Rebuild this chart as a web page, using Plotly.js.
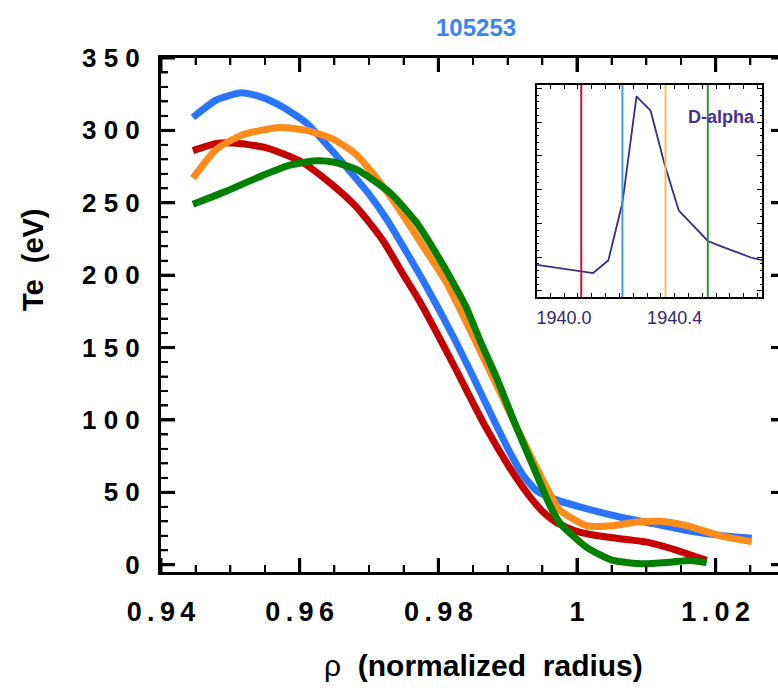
<!DOCTYPE html>
<html>
<head>
<meta charset="utf-8">
<script src="https://cdn.plot.ly/plotly-3.0.1.min.js"></script>
<style>
html, body { margin: 0; padding: 0; overflow: hidden; background: #fff; }
#wrap { position: relative; width: 790px; height: 690px; }
#chart { position: absolute; left: 0; top: 0; width: 790px; height: 690px; }
#inset { position: absolute; left: 500px; top: 60px; width: 280px; height: 280px; }
</style>
</head>
<body>
<div id="wrap"><div id="chart"></div><div id="inset"></div></div>
<script>
// ---- Main profiles: Te (eV) vs rho ----
const blueRho = [0.9446, 0.9480, 0.9516, 0.9545, 0.9576, 0.9610, 0.9643, 0.9672, 0.9700, 0.9725, 0.9754, 0.9783, 0.9821, 0.9850, 0.9884, 0.9905, 0.9922, 0.9942, 0.9966, 1.0004, 1.0062, 1.0110, 1.0158, 1.0207, 1.0252];
const blueTe  = [309, 321, 326, 323, 316, 305, 288, 272, 256, 239, 216, 192, 158, 130, 96, 76, 62, 51, 45.5, 40, 33, 28.4, 23.7, 20.3, 18.4];

const orangeRho = [0.9446, 0.9480, 0.9518, 0.9571, 0.9610, 0.9648, 0.9680, 0.9706, 0.9740, 0.9778, 0.9812, 0.9855, 0.9913, 0.9951, 0.9975, 1.0014, 1.0052, 1.0086, 1.0120, 1.0158, 1.0207, 1.0252];
const orangeTe  = [267, 287, 297, 302, 300, 294, 284, 270, 248, 220, 194.5, 153, 95, 58, 38, 27, 27, 29.5, 30, 27, 20, 16];

const redRho = [0.9446, 0.9480, 0.9513, 0.9552, 0.9600, 0.9643, 0.9682, 0.9720, 0.9750, 0.9773, 0.9821, 0.9865, 0.9903, 0.9932, 0.9950, 0.9971, 1.0000, 1.0030, 1.0062, 1.0101, 1.0144, 1.0173, 1.0187];
const redTe  = [286, 291, 291, 288, 279, 264, 247, 224, 200, 182, 139, 98, 67, 47, 37, 29, 23, 20, 18, 15.6, 10, 5.3, 3];

const greenRho = [0.9446, 0.9494, 0.9542, 0.9586, 0.9624, 0.9650, 0.9682, 0.9730, 0.9769, 0.9797, 0.9821, 0.9840, 0.9860, 0.9885, 0.9910, 0.9942, 0.9960, 0.9975, 1.0014, 1.0052, 1.0096, 1.0134, 1.0163, 1.0187];
const greenTe  = [249, 258, 268, 276, 279, 278, 273, 257, 236, 215, 195, 178, 155, 128, 98, 62, 42, 29, 12, 3, 0.7, 1.8, 3, 1.5];

// ---- Inset: D-alpha signal vs time ----
const daTime   = [1939.902, 1939.953, 1940.004, 1940.055, 1940.105, 1940.160, 1940.211, 1940.262, 1940.313, 1940.364, 1940.415, 1940.469, 1940.520, 1940.571, 1940.625, 1940.676, 1940.716];
const daSignal = [0.77, 0.71, 0.65, 0.59, 0.53, 0.90, 2.61, 5.76, 5.34, 3.74, 2.38, 1.92, 1.48, 1.31, 1.15, 0.99, 0.91];
const sliceTimes  = [1940.062, 1940.211, 1940.367, 1940.520];
const sliceColors = ['#d0103a', '#3aa0e0', '#f0c050', '#3d8f3d'];

// ---- Tick labels ----
const xTickVals = ['0.94', '0.96', '0.98', '1', '1.02'];
const xTickText = ['0\u2009.\u20099\u20094', '0\u2009.\u20099\u20096', '0\u2009.\u20099\u20098', '1', '1\u2009.\u20090\u20092'];
const yTickVals = ['0', '50', '100', '150', '200', '250', '300', '350'];
const yTickText = ['0', '5 0', '1 0 0', '1 5 0', '2 0 0', '2 5 0', '3 0 0', '3 5 0'];
const insetTickVals = [1940.0, 1940.4];
const insetTickText = ['1940.0', '1940.4'];

const xAlias = {}; xTickVals.forEach((v, i) => xAlias[v] = xTickText[i]);
const yAlias = {}; yTickVals.forEach((v, i) => yAlias[v] = yTickText[i]);

const FONT = 'Liberation Sans, Arial, sans-serif';
const W = 790, H = 690, M = { l: 161, r: 5, t: 58, b: 118 };
const X_RANGE = [0.94, 1.03];
const Y_RANGE = [-5, 350];
const T_RANGE = [1939.902, 1940.716];
const S_RANGE = [-0.18, 6.1];
const lineStyle = (c) => ({ color: c, width: 7, shape: 'spline', smoothing: 0.6 });

const traces = [
  { x: redRho, y: redTe, mode: 'lines', line: lineStyle('#c40000') },
  { x: blueRho, y: blueTe, mode: 'lines', line: lineStyle('#2a75ff') },
  { x: orangeRho, y: orangeTe, mode: 'lines', line: lineStyle('#ff8c1a') },
  { x: greenRho, y: greenTe, mode: 'lines', line: lineStyle('#008000') }
];

// ---- frame tick marks as line traces (pixel lengths converted through the axis scale) ----
function ticksAlong(start, stop, step) {
  const out = []; const n = Math.round((stop - start) / step);
  for (let i = 0; i <= n; i++) out.push(+(start + i * step).toFixed(6));
  return out;
}
const isMultiple = (v, m) => Math.abs(v / m - Math.round(v / m)) < 1e-6;
const xPerPx = (X_RANGE[1] - X_RANGE[0]) / (W - M.l - M.r);
const yPerPx = (Y_RANGE[1] - Y_RANGE[0]) / (H - M.t - M.b);
function tickTrace(xVals, yVals, lenPx, width) {
  const x = [], y = [];
  xVals.forEach(v => {
    x.push(v, v, null, v, v, null);
    y.push(Y_RANGE[0], Y_RANGE[0] + lenPx * yPerPx, null, Y_RANGE[1], Y_RANGE[1] - lenPx * yPerPx, null);
  });
  yVals.forEach(v => {
    x.push(X_RANGE[0], X_RANGE[0] + lenPx * xPerPx, null, X_RANGE[1], X_RANGE[1] - lenPx * xPerPx, null);
    y.push(v, v, null, v, v, null);
  });
  return { x, y, mode: 'lines', line: { color: '#000', width }, connectgaps: false, hoverinfo: 'skip', cliponaxis: false };
}
const xAll = ticksAlong(0.94, 1.03, 0.005), yAll = ticksAlong(0, 350, 10);
traces.push(tickTrace(xAll.filter(v => !isMultiple(v - 0.94, 0.02)), yAll.filter(v => !isMultiple(v, 50)), 7, 2));
traces.push(tickTrace(xAll.filter(v => isMultiple(v - 0.94, 0.02)), yAll.filter(v => isMultiple(v, 50)), 14, 3));

const layout = {
  width: W, height: H, margin: M,
  paper_bgcolor: '#fff', plot_bgcolor: '#fff',
  showlegend: false,
  font: { family: FONT, color: '#000' },
  xaxis: {
    range: X_RANGE, tickmode: 'linear', tick0: 0.94, dtick: 0.02,
    labelalias: xAlias,
    ticks: 'inside', ticklen: 14, tickwidth: 3, tickcolor: '#000',
    minor: { dtick: 0.005, ticks: 'inside', ticklen: 7, tickwidth: 2, tickcolor: '#000' },
    showline: true, linewidth: 3, linecolor: '#000', mirror: 'ticks',
    showgrid: false, zeroline: false,
    tickfont: { family: FONT, size: 27, weight: 'bold', color: '#000' },
    ticklabelstandoff: 14
  },
  yaxis: {
    range: Y_RANGE, tickmode: 'linear', tick0: 0, dtick: 50,
    labelalias: yAlias,
    ticks: 'inside', ticklen: 14, tickwidth: 3, tickcolor: '#000',
    minor: { dtick: 10, ticks: 'inside', ticklen: 7, tickwidth: 2, tickcolor: '#000' },
    showline: true, linewidth: 3, linecolor: '#000', mirror: 'ticks',
    showgrid: false, zeroline: false,
    tickfont: { family: FONT, size: 26, weight: 'bold', color: '#000' },
    ticklabelstandoff: 13
  },
  annotations: [
    { text: '105253', xref: 'paper', yref: 'paper', x: 0.505, y: 1.0603, xanchor: 'center', yanchor: 'middle',
      showarrow: false, font: { family: FONT, size: 24, weight: 'bold', color: '#3a84f5' } },
    { text: 'Te  (eV)', xref: 'paper', yref: 'paper', x: -0.205, y: 0.607, xanchor: 'center', yanchor: 'middle',
      textangle: -90, showarrow: false, font: { family: FONT, size: 29, weight: 'bold', color: '#000' } },
    { text: '<span style="font-weight:normal">ρ</span>  (normalized  radius)', xref: 'paper', yref: 'paper',
      x: 0.5176, y: -0.181, xanchor: 'center', yanchor: 'middle',
      showarrow: false, font: { family: FONT, size: 30, weight: 'bold', color: '#000' } }
  ]
};

Plotly.newPlot('chart', traces, layout, { displayModeBar: false, staticPlot: true });

// ---- inset chart (separate figure placed over the main one) ----
const insetTraces = [
  { x: daTime, y: daSignal, mode: 'lines', line: { color: '#3b2a86', width: 1.8 } }
];
const insetShapes = sliceTimes.map((t, i) => ({
  type: 'line', xref: 'x', yref: 'y domain', x0: t, x1: t, y0: 0, y1: 1,
  line: { color: sliceColors[i], width: 2 }, layer: 'above'
}));
const insetLayout = {
  width: 280, height: 280,
  margin: { l: 37, r: 18, t: 25, b: 43 },
  paper_bgcolor: 'rgba(0,0,0,0)', plot_bgcolor: '#fff',
  showlegend: false,
  font: { family: FONT, color: '#33266e' },
  xaxis: {
    range: T_RANGE, tickmode: 'array', tickvals: insetTickVals, ticktext: insetTickText,
    ticks: 'inside', ticklen: 4, tickwidth: 1, tickcolor: '#000',
    minor: { dtick: 0.05, tick0: 1940, ticks: 'inside', ticklen: 4, tickwidth: 1, tickcolor: '#000' },
    showline: true, linewidth: 2, linecolor: '#000', mirror: 'ticks',
    showgrid: false, zeroline: false,
    tickfont: { family: FONT, size: 18, color: '#33266e' },
    ticklabelstandoff: 3
  },
  yaxis: {
    range: S_RANGE, tickmode: 'linear', tick0: 0, dtick: 1, showticklabels: false,
    ticks: 'inside', ticklen: 5, tickwidth: 1, tickcolor: '#000',
    minor: { dtick: 0.2, ticks: 'inside', ticklen: 2, tickwidth: 1, tickcolor: '#000' },
    showline: true, linewidth: 2, linecolor: '#000', mirror: 'ticks',
    showgrid: false, zeroline: false
  },
  shapes: insetShapes,
  annotations: [
    { text: 'D-alpha', xref: 'x domain', yref: 'y domain', x: 0.822, y: 0.849, xanchor: 'center', yanchor: 'middle',
      showarrow: false, font: { family: FONT, size: 18, weight: 'bold', color: '#4a2f96' } }
  ]
};
Plotly.newPlot('inset', insetTraces, insetLayout, { displayModeBar: false, staticPlot: true });
</script>
</body>
</html>
